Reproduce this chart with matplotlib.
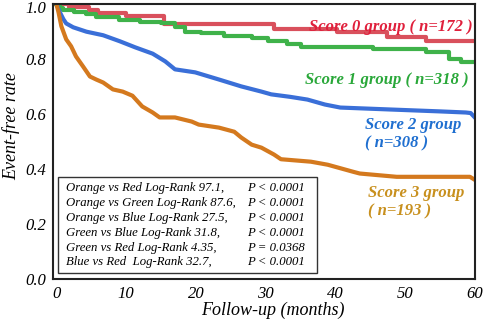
import matplotlib
matplotlib.use("Agg")
import matplotlib.pyplot as plt
from matplotlib.patches import Rectangle
from matplotlib.transforms import ScaledTranslation

plt.rcParams['font.family'] = ['Liberation Serif', 'DejaVu Serif']

# Kaplan-Meier style curves (months, event-free rate)
t_red = [0, 1.8, 4.6, 6.0, 10.0, 15.4, 31.2, 40.3, 47.4, 53.0, 60]
s_red = [1.0, 0.99, 0.978, 0.967, 0.958, 0.927, 0.909, 0.898, 0.88, 0.865, 0.865]

t_green = [0, 0.5, 1.0, 2.5, 4.3, 5.7, 9.0, 12.0, 15.0, 17.0, 18.5, 20.8, 24.0,
           28.0, 30.4, 33.0, 35.0, 45.4, 53.0, 56.3, 58.0, 60]
s_green = [1.0, 0.985, 0.978, 0.97, 0.963, 0.953, 0.942, 0.934, 0.93, 0.916, 0.90,
           0.894, 0.883, 0.876, 0.865, 0.855, 0.843, 0.836, 0.825, 0.80, 0.79, 0.79]

t_blue = [0, 0.5, 1.0, 1.4, 2.4, 4.3, 6.7, 9.1, 11.3, 13.8, 15.6, 17.0, 19.9, 23.3,
          26.5, 29.4, 30.8, 33.5, 36.0, 38.5, 40.7, 47.8, 55.0, 58.7, 59.4, 60]
s_blue = [1.0, 0.97, 0.945, 0.93, 0.916, 0.90, 0.887, 0.865, 0.843, 0.82, 0.792,
          0.763, 0.752, 0.726, 0.701, 0.682, 0.672, 0.663, 0.653, 0.635, 0.624,
          0.617, 0.61, 0.606, 0.604, 0.588]

t_orange = [0, 0.3, 0.7, 1.4, 2.1, 2.8, 3.8, 4.8, 5.7, 6.7, 8.1, 9.5, 10.9,
            12.3, 13.8, 14.8, 17.0, 19.4, 20.4, 23.3, 25.5, 26.5, 28.0, 29.4, 31.2,
            32.2, 36.5, 38.9, 42.6, 43.5, 48.8, 59.3, 60]
s_orange = [1.0, 0.97, 0.92, 0.872, 0.847, 0.81, 0.774, 0.737, 0.726, 0.715,
            0.69, 0.682, 0.667, 0.628, 0.606, 0.588, 0.588, 0.573, 0.562, 0.551,
            0.536, 0.515, 0.489, 0.478, 0.453, 0.436, 0.427, 0.416, 0.39, 0.384,
            0.372, 0.372, 0.361]

group_labels = ["Score 0 group ( n=172 )", "Score 1 group ( n=318 )",
                "Score 2 group\n( n=308 )", "Score 3 group\n( n=193 )"]

stat_names = ["Orange vs Red Log-Rank 97.1,", "Orange vs Green Log-Rank 87.6,",
              "Orange vs Blue Log-Rank 27.5,", "Green vs Blue Log-Rank 31.8,",
              "Green vs Red Log-Rank 4.35,", "Blue vs Red  Log-Rank 32.7,"]
stat_p = ["P < 0.0001", "P < 0.0001", "P < 0.0001", "P < 0.0001",
          "P = 0.0368", "P < 0.0001"]

x_ticks = [0, 10, 20, 30, 40, 50, 60]
y_ticks = [0.0, 0.2, 0.4, 0.6, 0.8, 1.0]

line_colors = ['#d9505c', '#3fb24a', '#3a6fd8', '#d4791e']
text_colors = ['#e0203c', '#2aa83a', '#1f6fd0', '#c8901e']

fig = plt.figure(figsize=(4.86, 3.23), dpi=100)
ax = fig.add_axes([0.109, 0.136, 0.868, 0.851])

ax.step(t_red, s_red, where='post', color=line_colors[0], lw=3.0)
ax.step(t_green, s_green, where='post', color=line_colors[1], lw=3.0)
ax.plot(t_blue, s_blue, color=line_colors[2], lw=3.0)
ax.plot(t_orange, s_orange, color=line_colors[3], lw=3.0)

ax.set_xlim(-0.5, 60)
ax.set_ylim(0, 1.0)
ax.set_xticks(x_ticks)
ax.set_yticks(y_ticks)
ax.set_xticklabels([str(v) for v in x_ticks], fontstyle='italic', fontsize=12)
ax.set_yticklabels([f"{v:.1f}" for v in y_ticks], fontstyle='italic', fontsize=12)
ax.tick_params(length=0, pad=5)
top_lbl = ax.get_yticklabels()[-1]
top_lbl.set_transform(top_lbl.get_transform() + ScaledTranslation(0, -2 / 72, fig.dpi_scale_trans))
for sp in ax.spines.values():
    sp.set_linewidth(1.5)
    sp.set_color('#222222')

fig.text(0.023, 0.61, "Event-free rate", rotation=90, fontstyle='italic',
         fontsize=13, ha='center', va='center')
fig.text(0.562, 0.04, "Follow-up (months)", fontstyle='italic', fontsize=13,
         ha='center', va='center')

# group labels
ax.text(0.995, 0.917, group_labels[0], transform=ax.transAxes, ha='right', va='center',
        color=text_colors[0], fontsize=12, fontweight='bold', fontstyle='italic')
ax.text(0.985, 0.724, group_labels[1], transform=ax.transAxes, ha='right', va='center',
        color=text_colors[1], fontsize=12, fontweight='bold', fontstyle='italic')
ax.text(0.74, 0.527, group_labels[2], transform=ax.transAxes, ha='left', va='center',
        color=text_colors[2], fontsize=12, fontweight='bold', fontstyle='italic',
        linespacing=1.22)
ax.text(0.747, 0.28, group_labels[3], transform=ax.transAxes, ha='left', va='center',
        color=text_colors[3], fontsize=12, fontweight='bold', fontstyle='italic',
        linespacing=1.22)

# statistics box
ax.add_patch(Rectangle((0.012, 0.022), 0.614, 0.349, transform=ax.transAxes,
                       fill=False, edgecolor='#333333', lw=1.0))
ys = [0.331, 0.276, 0.222, 0.168, 0.113, 0.062]
for y, nm, p in zip(ys, stat_names, stat_p):
    ax.text(0.031, y, nm, transform=ax.transAxes, ha='left', va='center',
            fontsize=9.2, fontstyle='italic')
    ax.text(0.459, y, p, transform=ax.transAxes, ha='left', va='center',
            fontsize=9.2, fontstyle='italic')

fig.savefig("out.png", dpi=100)
